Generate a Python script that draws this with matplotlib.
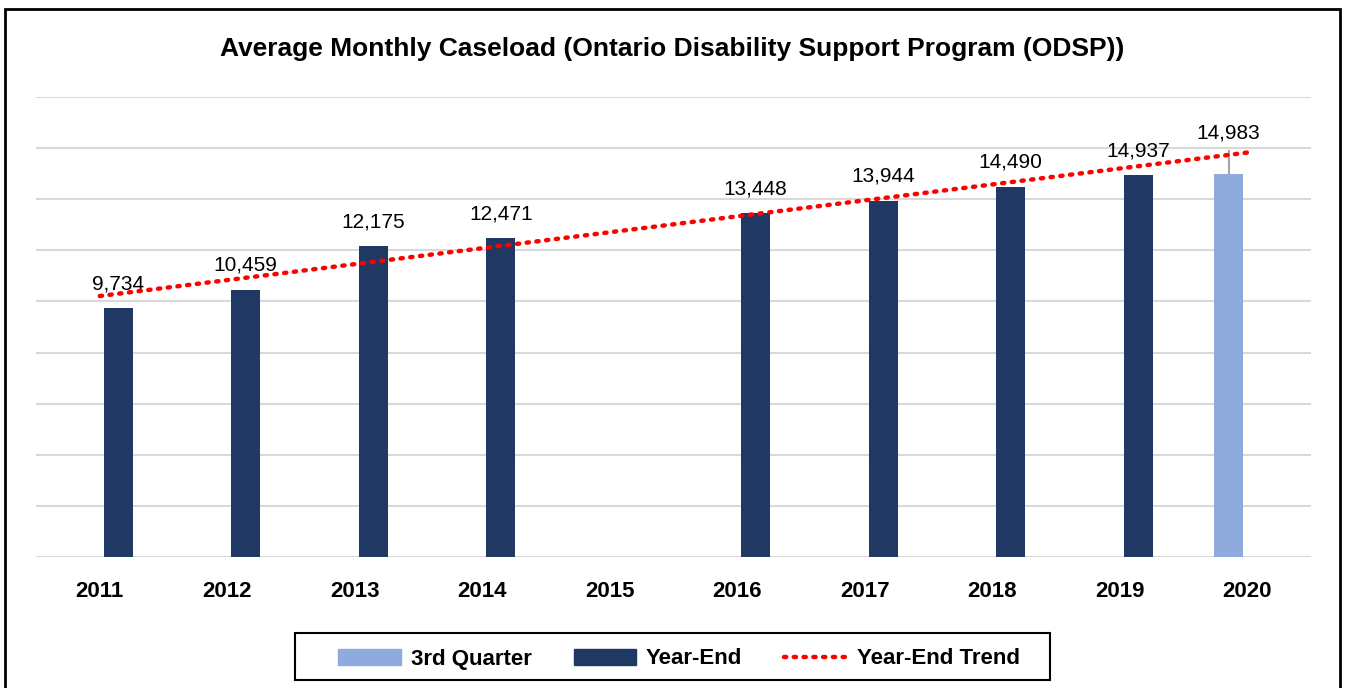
import matplotlib.pyplot as plt
from matplotlib.patches import Rectangle
from matplotlib.lines import Line2D
import numpy as np

plt.rcParams['font.family'] = ['Liberation Sans', 'DejaVu Sans']

years = ['2011', '2012', '2013', '2014', '2015', '2016', '2017', '2018', '2019', '2020']
year_end = [9734, 10459, 12175, 12471, np.nan, 13448, 13944, 14490, 14937, np.nan]
third_quarter = [np.nan] * 9 + [14983]

navy = '#203864'
light_blue = '#8FAADC'
trend_style = dict(color='#FF0000', linestyle=(0, (0.5, 1.7)), linewidth=3.2,
                   dash_capstyle='round')

fig = plt.figure(figsize=(13.45, 6.88), dpi=100)
ax = fig.add_axes([0.0268, 0.1904, 0.9479, 0.6686])

pos = np.arange(len(years))
width = 0.227
off = 0.145

ax.bar(pos - off, third_quarter, width, color=light_blue, zorder=3)
ax.bar(pos + off, year_end, width, color=navy, zorder=3)

# linear trend on year-end values (category index as x)
ye = np.array(year_end, dtype=float)
ok = ~np.isnan(ye)
k, b = np.polyfit(pos[ok], ye[ok], 1)
tx = np.array([0, 9])
ax.plot(tx, k * tx + b, zorder=4, **trend_style)

for i, v in enumerate(year_end):
    if not np.isnan(v):
        ax.text(pos[i] + off, v + 950, f'{v:,.0f}', ha='center', va='center',
                fontsize=15)
v = third_quarter[9]
ax.plot([pos[9] - off] * 2, [v, v + 900], color='#a6a6a6', linewidth=1.5, zorder=2)
ax.text(pos[9] - off, v + 1600, f'{v:,.0f}', ha='center', va='center', fontsize=15)

ax.set_xlim(-0.5, 9.5)
ax.set_ylim(0, 18000)
ax.set_yticks(np.arange(0, 18001, 2000))
ax.grid(axis='y', color='#d9d9d9', linewidth=1.5, zorder=0)
ax.set_axisbelow(True)
ax.tick_params(left=False, labelleft=False, bottom=False)
ax.set_xticks(pos)
ax.set_xticklabels(years, fontsize=16, fontweight='bold')
ax.tick_params(axis='x', pad=14)
for s in ax.spines.values():
    s.set_visible(False)

fig.text(0.4996, 0.929, 'Average Monthly Caseload (Ontario Disability Support Program (ODSP))',
         ha='center', va='center', fontsize=19, fontweight='bold')

handles = [Rectangle((0, 0), 1, 1, color=light_blue),
           Rectangle((0, 0), 1, 1, color=navy),
           Line2D([], [], **trend_style)]
fig.legend(handles, ['3rd Quarter', 'Year-End', 'Year-End Trend'],
           loc='center', bbox_to_anchor=(679 / 1345, 1 - 659 / 688), ncol=3,
           prop={'weight': 'bold', 'size': 16}, frameon=False,
           handlelength=2.8, handleheight=0.7, handletextpad=0.45,
           columnspacing=1.9, borderpad=0.3, borderaxespad=0)
fig.patches.append(Rectangle((295 / 1345, 1 - 680 / 688), 755 / 1345, 47 / 688,
                             transform=fig.transFigure, fill=False,
                             edgecolor='black', linewidth=1.5))

fig.patches.append(Rectangle((5 / 1345, -0.02), 1335 / 1345, 1 - 9 / 688 + 0.02,
                             transform=fig.transFigure, fill=False,
                             edgecolor='black', linewidth=2))

fig.savefig('out.png', dpi=100)
